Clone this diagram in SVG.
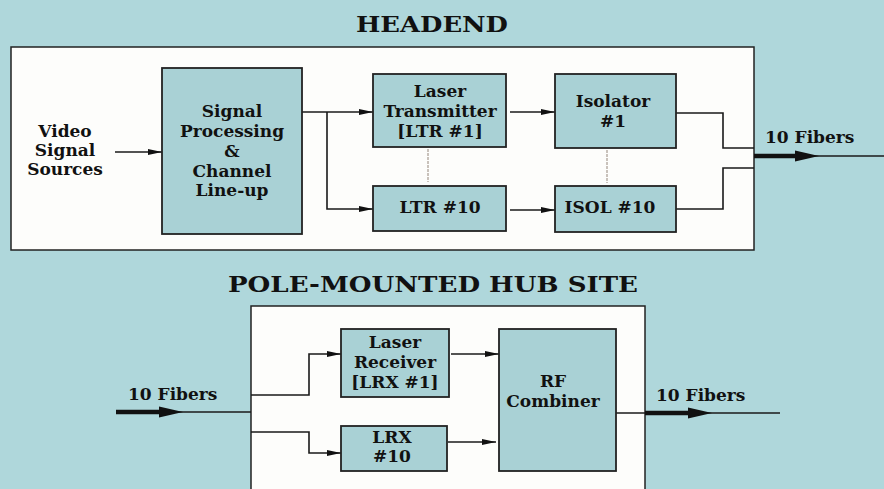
<svg xmlns="http://www.w3.org/2000/svg" width="884" height="489" viewBox="0 0 884 489">
<style>
.bg{fill:#afd7db}
.panel{fill:#fdfdfb;stroke:#222;stroke-width:1.5}
.box{fill:#a9d1d5;stroke:#222;stroke-width:1.8}
.t{font-family:"DejaVu Serif","Liberation Serif",serif;font-weight:bold;font-size:17px;fill:#111;text-anchor:middle}
.lbl{font-family:"DejaVu Serif","Liberation Serif",serif;font-weight:bold;font-size:17px;fill:#111}
.title{font-family:"DejaVu Serif","Liberation Serif",serif;font-weight:bold;font-size:23px;fill:#111}
.c{fill:none;stroke:#1a1a1a;stroke-width:1.6}
.thick{fill:none;stroke:#111;stroke-width:4.5}
.faint{fill:none;stroke:#c9c2bb;stroke-width:2;stroke-dasharray:3 1}
</style>
<defs>
<marker id="ah" markerWidth="14" markerHeight="8" refX="14" refY="4" orient="auto" markerUnits="userSpaceOnUse">
<path d="M0,1 L14,4 L0,7 z" fill="#111"/>
</marker>
<marker id="big" markerWidth="24" markerHeight="12" refX="2" refY="6" orient="auto" markerUnits="userSpaceOnUse">
<path d="M0,0.5 L24,6 L0,11.5 z" fill="#111"/>
</marker>
</defs>
<rect class="bg" x="0" y="0" width="884" height="489"/>

<text class="title" x="356" y="32" textLength="152" lengthAdjust="spacingAndGlyphs">HEADEND</text>
<rect class="panel" x="11" y="47" width="743" height="203"/>

<text class="title" x="228" y="292" textLength="410" lengthAdjust="spacingAndGlyphs">POLE-MOUNTED HUB SITE</text>
<rect class="panel" x="251" y="306" width="394" height="195"/>

<g id="connectors">
<path class="c" d="M115,152 L162,152" marker-end="url(#ah)"/>
<path class="c" d="M302,112 L373,112" marker-end="url(#ah)"/>
<path class="c" d="M327,112 L327,209 L373,209" marker-end="url(#ah)"/>
<path class="c" d="M510,112 L555,112" marker-end="url(#ah)"/>
<path class="c" d="M510,210 L555,210" marker-end="url(#ah)"/>
<path class="c" d="M676,113 L723,113 L723,148 L754,148"/>
<path class="c" d="M676,209 L723,209 L723,168 L754,168"/>
<path class="faint" d="M428,149 L428,182"/>
<path class="faint" d="M607,150 L607,183"/>
<path class="c" d="M754,156 L884,156"/>
<path class="thick" d="M754,156 L797,156" marker-end="url(#big)"/>

<path class="c" d="M116,412 L251,412"/>
<path class="thick" d="M116,412 L161,412" marker-end="url(#big)"/>
<path class="c" d="M251,395 L309,395 L309,354 L341,354" marker-end="url(#ah)"/>
<path class="c" d="M251,432 L309,432 L309,453 L341,453" marker-end="url(#ah)"/>
<path class="c" d="M451,354 L499,354" marker-end="url(#ah)"/>
<path class="c" d="M448,442 L496,442" marker-end="url(#ah)"/>
<path class="c" d="M616,413 L780,413"/>
<path class="thick" d="M645,413 L690,413" marker-end="url(#big)"/>
</g>

<g id="video-sources">
<text class="t" x="65" y="137">Video</text>
<text class="t" x="65" y="156">Signal</text>
<text class="t" x="65" y="175">Sources</text>
</g>

<g id="signal-processing">
<rect class="box" x="162" y="68" width="140" height="166"/>
<text class="t" x="232" y="117">Signal</text>
<text class="t" x="232" y="137">Processing</text>
<text class="t" x="232" y="157">&amp;</text>
<text class="t" x="232" y="177">Channel</text>
<text class="t" x="232" y="196">Line-up</text>
</g>

<g id="ltr1">
<rect class="box" x="373" y="74" width="133" height="73"/>
<text class="t" x="440" y="97">Laser</text>
<text class="t" x="440" y="117">Transmitter</text>
<text class="t" x="440" y="137">[LTR #1]</text>
</g>

<g id="ltr10">
<rect class="box" x="373" y="186" width="133" height="45"/>
<text class="t" x="440" y="213">LTR #10</text>
</g>

<g id="isolator1">
<rect class="box" x="555" y="74" width="121" height="74"/>
<text class="t" x="613" y="107">Isolator</text>
<text class="t" x="613" y="127">#1</text>
</g>

<g id="isol10">
<rect class="box" x="555" y="186" width="121" height="46"/>
<text class="t" x="610" y="213">ISOL #10</text>
</g>

<g id="fibers-out-headend">
<text class="lbl" x="765" y="143">10 Fibers</text>
</g>

<g id="fibers-in-hub">
<text class="lbl" x="128" y="400">10 Fibers</text>
</g>

<g id="lrx1">
<rect class="box" x="341" y="329" width="108" height="68"/>
<text class="t" x="395" y="348">Laser</text>
<text class="t" x="395" y="368">Receiver</text>
<text class="t" x="395" y="388">[LRX #1]</text>
</g>

<g id="lrx10">
<rect class="box" x="341" y="426" width="106" height="45"/>
<text class="t" x="392" y="443">LRX</text>
<text class="t" x="392" y="462">#10</text>
</g>

<g id="rf-combiner">
<rect class="box" x="499" y="329" width="117" height="142"/>
<text class="t" x="553" y="387">RF</text>
<text class="t" x="553" y="407">Combiner</text>
</g>

<g id="fibers-out-hub">
<text class="lbl" x="656" y="401">10 Fibers</text>
</g>
</svg>
